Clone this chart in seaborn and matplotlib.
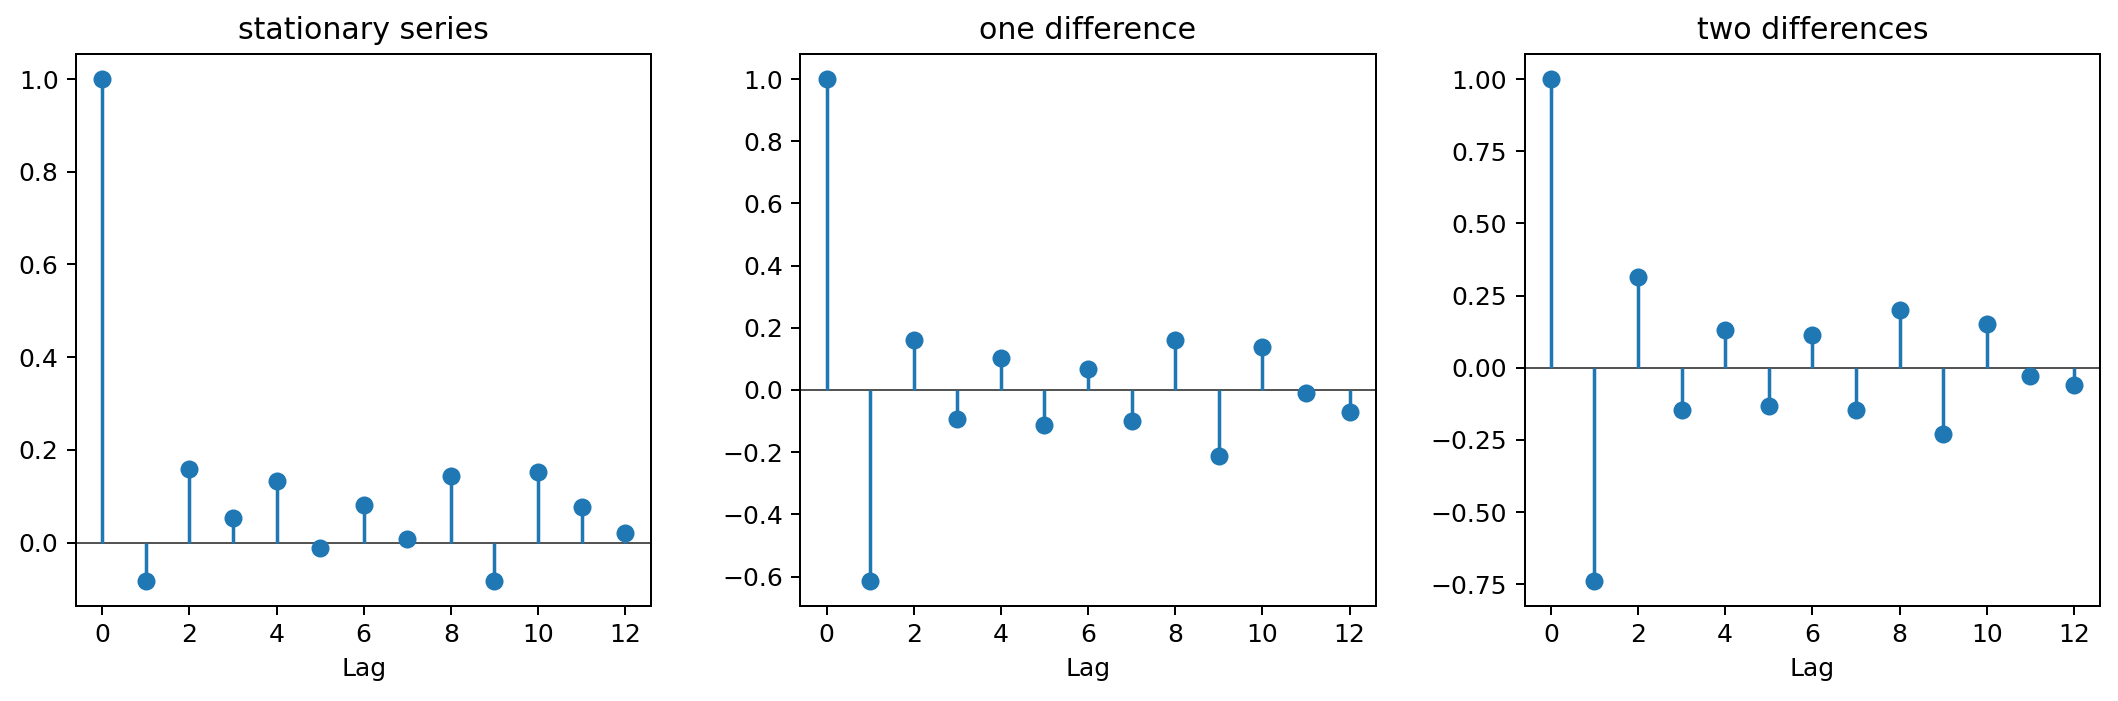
import numpy as np
import pandas as pd
import matplotlib
matplotlib.use("Agg")
import matplotlib.pyplot as plt
import seaborn as sns

lags = list(range(13))
titles = ["stationary series", "one difference", "two differences"]
acf_stationary = [1.0, -0.082, 0.159, 0.053, 0.133, -0.012, 0.081, 0.007, 0.144, -0.082, 0.152, 0.077, 0.021]
acf_one_diff = [1.0, -0.613, 0.162, -0.094, 0.102, -0.113, 0.068, -0.099, 0.162, -0.212, 0.137, -0.009, -0.070]
acf_two_diff = [1.0, -0.737, 0.314, -0.145, 0.130, -0.133, 0.114, -0.145, 0.200, -0.228, 0.152, -0.030, -0.058]
xlabel = "Lag"

series = [acf_stationary, acf_one_diff, acf_two_diff]

DPI = 180
fig, axes = plt.subplots(1, 3, figsize=(2118 / DPI, 701 / DPI), dpi=DPI)
fig.subplots_adjust(left=0.0359, right=0.9915, bottom=0.136, top=0.923, wspace=0.259)
color = "#1f77b4"
for ax, title, vals in zip(axes, titles, series):
    df = pd.DataFrame({"lag": lags, "acf": vals})
    ax.axhline(0, color="#555555", lw=0.8, zorder=1)
    ax.vlines(df["lag"], 0, df["acf"], color=color, lw=1.4, zorder=2)
    sns.scatterplot(data=df, x="lag", y="acf", ax=ax, color=color, s=52,
                    linewidth=0, edgecolor=None, zorder=3)
    ax.margins(0.05)
    ax.set_title(title)
    ax.set_xlabel(xlabel)
    ax.set_ylabel("")
    ax.set_xticks([0, 2, 4, 6, 8, 10, 12])

fig.savefig("out.png", dpi=DPI)
